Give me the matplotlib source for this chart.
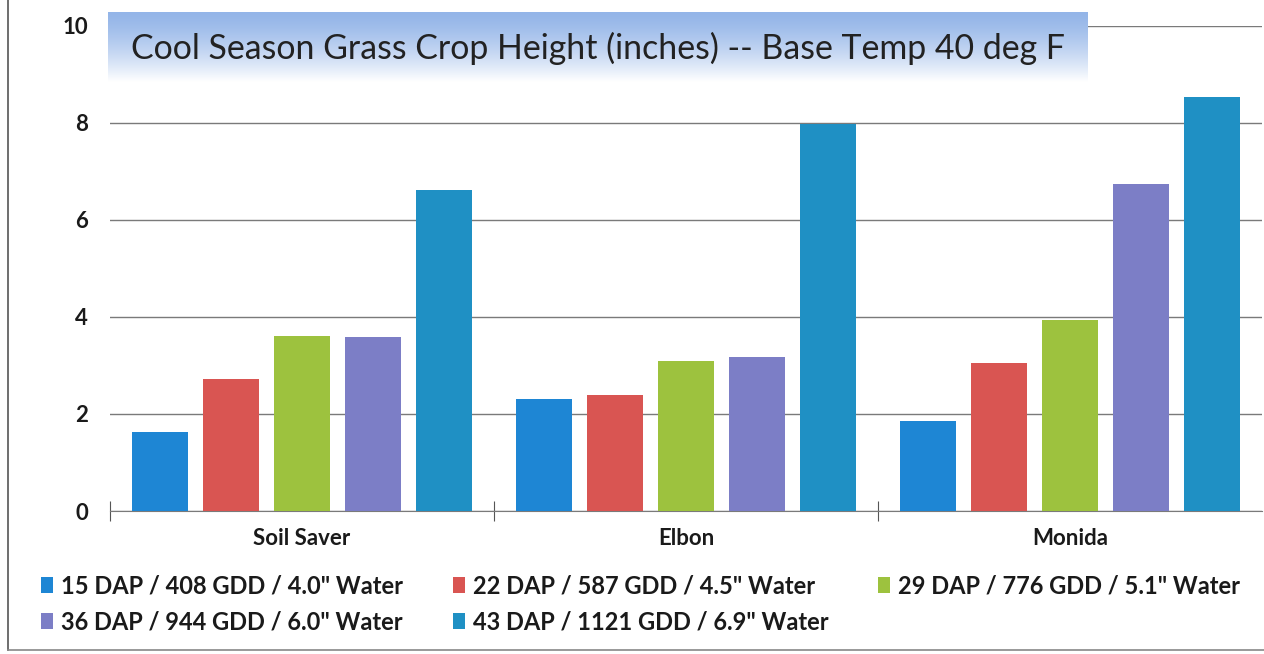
import matplotlib.pyplot as plt
import numpy as np

plt.rcParams["font.family"] = ["Lato", "DejaVu Sans"]

varieties = ["Soil Saver", "Elbon", "Monida"]
series_labels = [
    '15 DAP / 408 GDD / 4.0" Water',
    '22 DAP / 587 GDD / 4.5" Water',
    '29 DAP / 776 GDD / 5.1" Water',
    '36 DAP / 944 GDD / 6.0" Water',
    '43 DAP / 1121 GDD / 6.9" Water',
]
dap15 = [1.63, 2.31, 1.86]
dap22 = [2.72, 2.39, 3.05]
dap29 = [3.61, 3.09, 3.94]
dap36 = [3.59, 3.18, 6.74]
dap43 = [6.62, 7.98, 8.54]
series = [dap15, dap22, dap29, dap36, dap43]
colors = ["#1e86d4", "#d95552", "#9dc23e", "#7c7ec6", "#1f90c4"]

fig = plt.figure(figsize=(12.64, 6.54), dpi=100)
ax = fig.add_axes([110 / 1264, 143 / 654, 1152 / 1264, 485 / 654])

x = np.arange(len(varieties))
step, width = 0.185, 0.148
handles = []
for i, (vals, col) in enumerate(zip(series, colors)):
    b = ax.bar(x + (i - 2) * step, vals, width, color=col, zorder=3)
    handles.append(b)

ax.set_xlim(-0.5, 2.5)
ax.set_ylim(0, 10)
ax.set_yticks([0, 2, 4, 6, 8, 10])
ax.yaxis.grid(True, color="#7a7a7a", linewidth=1.0, zorder=0)
ax.set_axisbelow(True)
for s in ["top", "right", "left"]:
    ax.spines[s].set_visible(False)
ax.spines["bottom"].set_color("#7a7a7a")
ax.tick_params(axis="y", length=0, pad=16, labelsize=16)
ax.set_xticks([-0.5, 0.5, 1.5], minor=False)
ax.set_xticklabels([])
ax.tick_params(axis="x", which="major", direction="inout", length=14, color="#555555")
ax.set_xticks(x, minor=True)
ax.set_xticklabels(varieties, minor=True)
ax.tick_params(axis="x", which="minor", length=0, pad=12, labelsize=16)
for lbl in ax.get_yticklabels() + ax.get_xticklabels(minor=True):
    lbl.set_color("#1a1a1a")
    lbl.set_fontweight("bold")

# row-major order for the legend (matplotlib fills columns first)
order = [0, 3, 1, 4, 2]
leg = fig.legend(
    [handles[i] for i in order],
    [series_labels[i] for i in order],
    loc="upper left",
    bbox_to_anchor=(20 / 1264, 1 - 553 / 654),
    ncol=3,
    frameon=False,
    fontsize=17,
    handlelength=0.5,
    handleheight=0.7,
    handletextpad=0.35,
    columnspacing=2.1,
    labelspacing=0.55,
)
for t in leg.get_texts():
    t.set_fontweight("bold")
    t.set_color("#1a1a1a")

# title box with blue gradient
tax = fig.add_axes([108 / 1264, 1 - 82 / 654, 980 / 1264, 70 / 654])
grad = np.linspace(0, 1, 100)[:, None]
top = np.array([0.58, 0.71, 0.91])
white = np.array([1.0, 1.0, 1.0])
img = top[None, None, :] * (1 - grad[:, :, None] ** 1.4) + white[None, None, :] * grad[:, :, None] ** 1.4
tax.imshow(img, aspect="auto", extent=[0, 1, 0, 1])
tax.set_xlim(0, 1)
tax.set_ylim(0, 1)
tax.axis("off")
tax.text(0.5, 0.48, "Cool Season Grass Crop Height (inches) -- Base Temp 40 deg F",
         ha="center", va="center", fontsize=24.4, color="#222222")

# scanned page frame
fig.add_artist(plt.Line2D([8 / 1264, 8 / 1264], [4 / 654, 1], transform=fig.transFigure,
                          color="#555555", linewidth=1.2))
fig.add_artist(plt.Line2D([8 / 1264, 1], [4 / 654, 4 / 654], transform=fig.transFigure,
                          color="#888888", linewidth=1.2))

fig.savefig("out.png", dpi=100)
